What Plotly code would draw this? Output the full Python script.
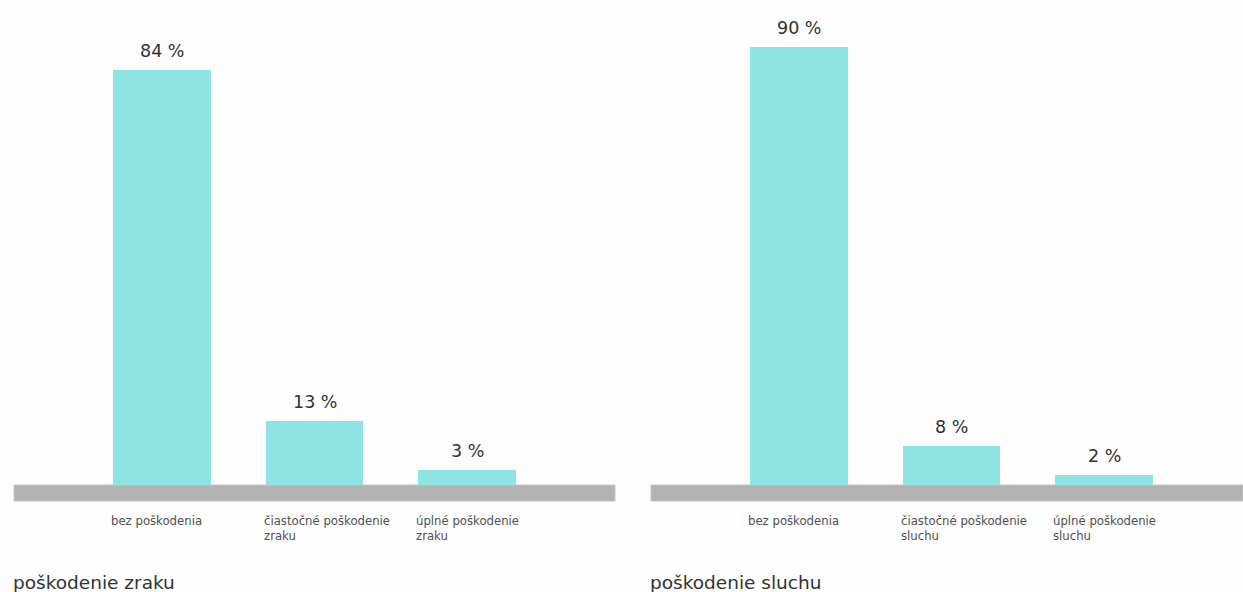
import plotly.graph_objects as go

W, H = 1243, 592

cats_zrak = ["bez poškodenia", "čiastočné poškodenie<br>zraku", "úplné poškodenie<br>zraku"]
vals_zrak = [84, 13, 3]
cats_sluch = ["bez poškodenia", "čiastočné poškodenie<br>sluchu", "úplné poškodenie<br>sluchu"]
vals_sluch = [90, 8, 2]
titles = ["poškodenie zraku", "poškodenie sluchu"]

BAR = "#8ee3e3"
FLOOR = "#b3b3b3"
BG = "#fdfdfd"
FONT = "DejaVu Sans, Verdana, sans-serif"
BASE = 485  # pixel baseline

fig = go.Figure()
panels = [
    (cats_zrak, vals_zrak, "x", "y", [14 / W, 615 / W], [-0.97, 2.97], 4.94),
    (cats_sluch, vals_sluch, "x2", "y2", [651 / W, 1.0], [-0.97, 2.91], 4.87),
]

ann = []
shapes = []
for k, (cats, vals, xa, ya, dom, rng, ppu) in enumerate(panels):
    xs = list(range(len(cats)))
    fig.add_trace(go.Bar(x=xs, y=vals, width=0.64, marker=dict(color=BAR, line=dict(width=0)),
                         xaxis=xa, yaxis=ya, showlegend=False, hoverinfo="skip"))
    for i, v in zip(xs, vals):
        ann.append(dict(x=i, y=v, xref=xa, yref=ya, text=f"{v} %", showarrow=False,
                        yanchor="bottom", yshift=7, font=dict(size=17.5, color="#333333", family=FONT)))
    for i, c in zip(xs, cats):
        ann.append(dict(x=i - 0.32, y=0, xref=xa, yref=ya, text=c, showarrow=False,
                        xanchor="left", yanchor="top", yshift=-27, xshift=-4, align="left",
                        font=dict(size=11.7, color="#505050", family=FONT)))
    sfx = "" if xa == "x" else "2"
    shapes.append(dict(type="rect", xref=f"x{sfx} domain", yref="paper",
                       x0=0, x1=1, y0=(H - 501) / H, y1=(H - 485) / H,
                       fillcolor=FLOOR, line=dict(color="#c6c6c6", width=1), layer="below"))
    tx = dom[0]
    ann.append(dict(x=tx, y=(H - 582) / H, xref="paper", yref="paper", text=titles[k],
                    showarrow=False, xanchor="left", yanchor="middle", xshift=-3,
                    font=dict(size=18.5, color="#333333", family=FONT)))

ydom = [(H - BASE) / H, 1.0]
fig.update_layout(
    width=W, height=H, margin=dict(l=0, r=0, t=0, b=0),
    paper_bgcolor=BG, plot_bgcolor=BG,
    xaxis=dict(domain=panels[0][4], range=panels[0][5], visible=False, fixedrange=True),
    xaxis2=dict(domain=panels[1][4], range=panels[1][5], visible=False, fixedrange=True),
    yaxis=dict(domain=ydom, range=[0, BASE / panels[0][6]], visible=False, anchor="x"),
    yaxis2=dict(domain=ydom, range=[0, BASE / panels[1][6]], visible=False, anchor="x2"),
    annotations=ann, shapes=shapes, bargap=0,
)
fig.write_html("out.html")
